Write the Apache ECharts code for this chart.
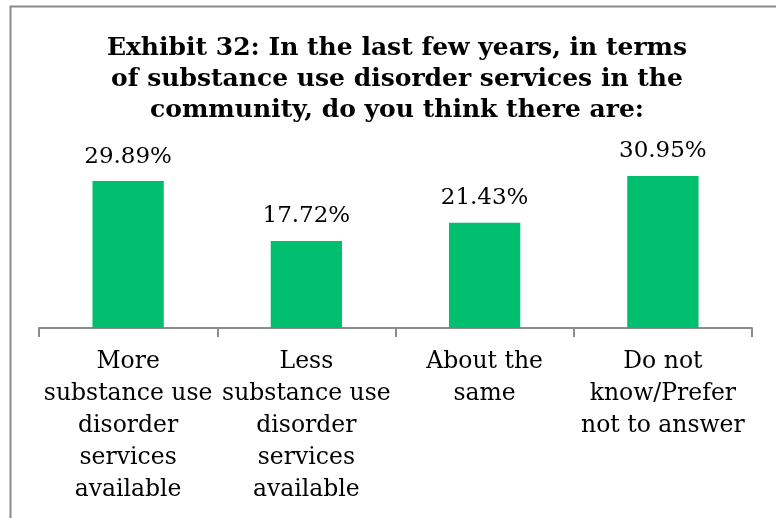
<!DOCTYPE html>
<html>
<head>
<meta charset="utf-8">
<script src="https://cdn.jsdelivr.net/npm/echarts@6/dist/echarts.min.js"></script>
<style>
  html, body { margin: 0; padding: 0; background: #fff; }
  #chart { width: 776px; height: 518px; }
</style>
</head>
<body>
<div id="chart"></div>
<script>
const title_text = "Exhibit 32: In the last few years, in terms\nof substance use disorder services in the\ncommunity, do you think there are:";

const categories = [
  "More\nsubstance use\ndisorder\nservices\navailable",
  "Less\nsubstance use\ndisorder\nservices\navailable",
  "About the\nsame",
  "Do not\nknow/Prefer\nnot to answer"
];
const values = [29.89, 17.72, 21.43, 30.95];

const font = "'DejaVu Serif', 'Liberation Serif', serif";

const chart = echarts.init(document.getElementById("chart"));
chart.setOption({
  animation: false,
  title: {
    text: title_text,
    left: 392,
    textAlign: "center",
    top: 28,
    textStyle: {
      fontFamily: font,
      fontWeight: "bold",
      fontSize: 25,
      lineHeight: 31,
      color: "#000"
    }
  },
  graphic: [{
    type: "rect",
    shape: { x: 10.5, y: 6.5, width: 900, height: 700 },
    style: { fill: "none", stroke: "#8a8a8a", lineWidth: 2 },
    silent: true
  }],
  grid: {
    left: 39,
    right: 24,
    top: 156,
    bottom: 190
  },
  xAxis: {
    type: "category",
    data: categories,
    axisLine: { lineStyle: { color: "#8c8c8c", width: 2 } },
    axisTick: { show: true, length: 9, lineStyle: { color: "#8c8c8c", width: 2 } },
    axisLabel: {
      interval: 0,
      margin: 18,
      fontFamily: font,
      fontSize: 23.5,
      lineHeight: 32,
      color: "#000"
    }
  },
  yAxis: {
    type: "value",
    min: 0,
    max: 35,
    show: false
  },
  series: [{
    type: "bar",
    data: values,
    barWidth: "40%",
    itemStyle: { color: "#00bf6f" },
    label: {
      show: true,
      position: "top",
      distance: 13,
      formatter: p => p.value.toFixed(2) + "%",
      fontFamily: font,
      fontSize: 23,
      color: "#000"
    }
  }]
});
</script>
</body>
</html>
